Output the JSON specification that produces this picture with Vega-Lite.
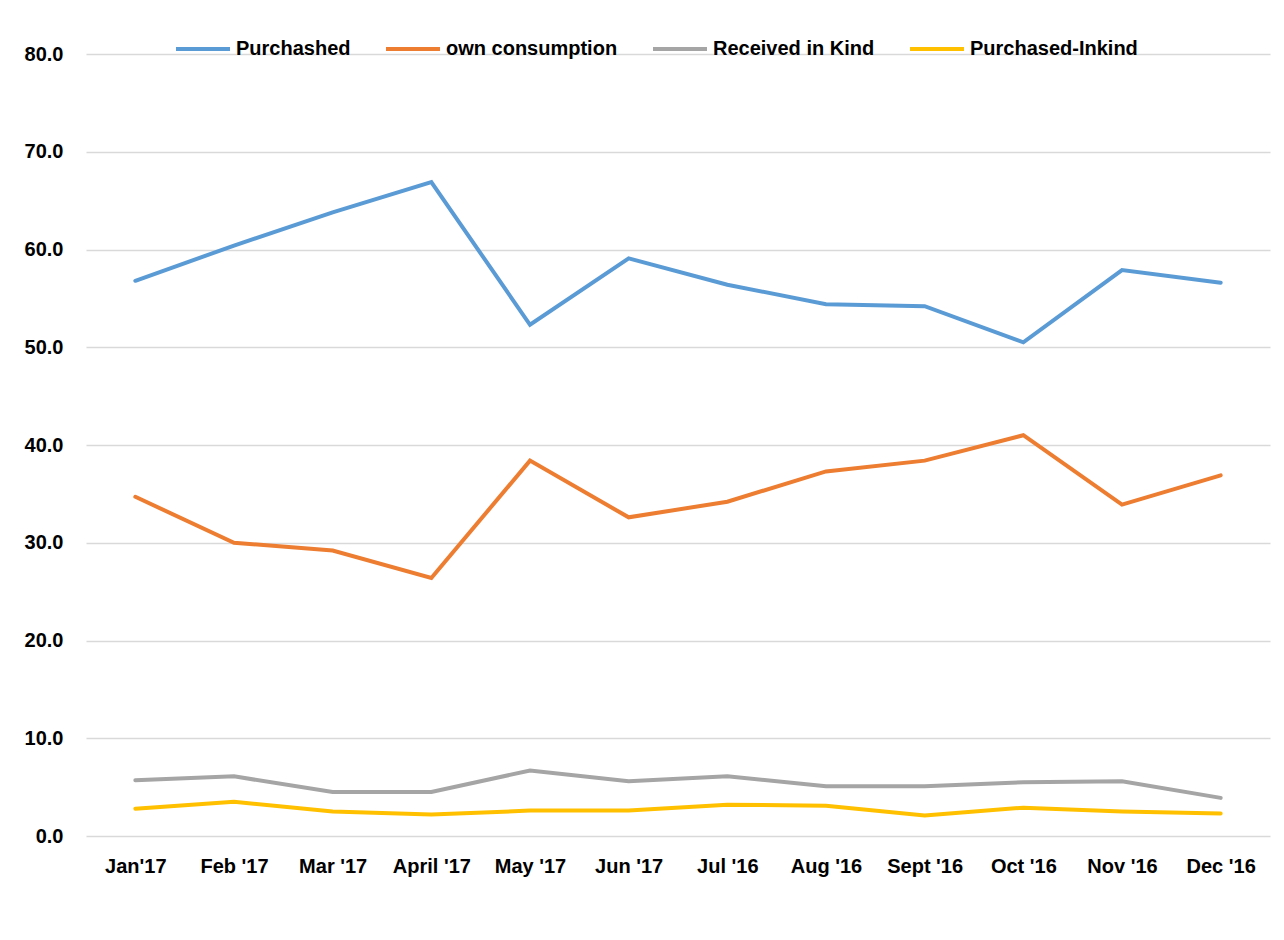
{
  "$schema": "https://vega.github.io/schema/vega-lite/v6.json",
  "autosize": {"type": "none"},
  "width": 1184,
  "height": 782,
  "padding": {"left": 86, "top": 54, "right": 14, "bottom": 104},
  "background": "white",
  "config": {
    "view": {"stroke": null},
    "font": "Liberation Sans, Arial, sans-serif"
  },
  "data": {
    "values": [
      {"month": "Jan'17", "series": "Purchashed", "value": 56.8},
      {"month": "Feb '17", "series": "Purchashed", "value": 60.4},
      {"month": "Mar '17", "series": "Purchashed", "value": 63.8},
      {"month": "April '17", "series": "Purchashed", "value": 66.9},
      {"month": "May '17", "series": "Purchashed", "value": 52.3},
      {"month": "Jun '17", "series": "Purchashed", "value": 59.1},
      {"month": "Jul '16", "series": "Purchashed", "value": 56.4},
      {"month": "Aug '16", "series": "Purchashed", "value": 54.4},
      {"month": "Sept '16", "series": "Purchashed", "value": 54.2},
      {"month": "Oct '16", "series": "Purchashed", "value": 50.5},
      {"month": "Nov '16", "series": "Purchashed", "value": 57.9},
      {"month": "Dec '16", "series": "Purchashed", "value": 56.6},
      {"month": "Jan'17", "series": "own consumption", "value": 34.7},
      {"month": "Feb '17", "series": "own consumption", "value": 30.0},
      {"month": "Mar '17", "series": "own consumption", "value": 29.2},
      {"month": "April '17", "series": "own consumption", "value": 26.4},
      {"month": "May '17", "series": "own consumption", "value": 38.4},
      {"month": "Jun '17", "series": "own consumption", "value": 32.6},
      {"month": "Jul '16", "series": "own consumption", "value": 34.2},
      {"month": "Aug '16", "series": "own consumption", "value": 37.3},
      {"month": "Sept '16", "series": "own consumption", "value": 38.4},
      {"month": "Oct '16", "series": "own consumption", "value": 41.0},
      {"month": "Nov '16", "series": "own consumption", "value": 33.9},
      {"month": "Dec '16", "series": "own consumption", "value": 36.9},
      {"month": "Jan'17", "series": "Received in Kind", "value": 5.7},
      {"month": "Feb '17", "series": "Received in Kind", "value": 6.1},
      {"month": "Mar '17", "series": "Received in Kind", "value": 4.5},
      {"month": "April '17", "series": "Received in Kind", "value": 4.5},
      {"month": "May '17", "series": "Received in Kind", "value": 6.7},
      {"month": "Jun '17", "series": "Received in Kind", "value": 5.6},
      {"month": "Jul '16", "series": "Received in Kind", "value": 6.1},
      {"month": "Aug '16", "series": "Received in Kind", "value": 5.1},
      {"month": "Sept '16", "series": "Received in Kind", "value": 5.1},
      {"month": "Oct '16", "series": "Received in Kind", "value": 5.5},
      {"month": "Nov '16", "series": "Received in Kind", "value": 5.6},
      {"month": "Dec '16", "series": "Received in Kind", "value": 3.9},
      {"month": "Jan'17", "series": "Purchased-Inkind", "value": 2.8},
      {"month": "Feb '17", "series": "Purchased-Inkind", "value": 3.5},
      {"month": "Mar '17", "series": "Purchased-Inkind", "value": 2.5},
      {"month": "April '17", "series": "Purchased-Inkind", "value": 2.2},
      {"month": "May '17", "series": "Purchased-Inkind", "value": 2.6},
      {"month": "Jun '17", "series": "Purchased-Inkind", "value": 2.6},
      {"month": "Jul '16", "series": "Purchased-Inkind", "value": 3.2},
      {"month": "Aug '16", "series": "Purchased-Inkind", "value": 3.1},
      {"month": "Sept '16", "series": "Purchased-Inkind", "value": 2.1},
      {"month": "Oct '16", "series": "Purchased-Inkind", "value": 2.9},
      {"month": "Nov '16", "series": "Purchased-Inkind", "value": 2.5},
      {"month": "Dec '16", "series": "Purchased-Inkind", "value": 2.3}
    ]
  },
  "mark": {"type": "line", "strokeWidth": 4, "strokeCap": "round", "strokeJoin": "miter"},
  "encoding": {
    "x": {
      "field": "month",
      "type": "nominal",
      "sort": null,
      "scale": {"type": "point", "padding": 0.5},
      "axis": {
        "title": null,
        "labelAngle": 0,
        "labelFont": "Liberation Sans, Arial, sans-serif",
        "labelFontSize": 20,
        "labelFontWeight": "bold",
        "labelColor": "black",
        "labelPadding": 20,
        "ticks": false,
        "domain": false,
        "grid": false
      }
    },
    "y": {
      "field": "value",
      "type": "quantitative",
      "scale": {"domain": [0, 80], "nice": false},
      "axis": {
        "title": null,
        "values": [0, 10, 20, 30, 40, 50, 60, 70, 80],
        "format": ".1f",
        "labelFont": "Liberation Sans, Arial, sans-serif",
        "labelFontSize": 20,
        "labelFontWeight": "bold",
        "labelColor": "black",
        "labelPadding": 23,
        "ticks": false,
        "domain": false,
        "grid": true,
        "gridColor": "#D9D9D9",
        "gridWidth": 1.5
      }
    },
    "color": {
      "field": "series",
      "type": "nominal",
      "sort": ["Purchashed", "own consumption", "Received in Kind", "Purchased-Inkind"],
      "scale": {
        "domain": ["Purchashed", "own consumption", "Received in Kind", "Purchased-Inkind"],
        "range": ["#5B9BD5", "#ED7D31", "#A5A5A5", "#FFC000"]
      },
      "legend": {
        "title": null,
        "orient": "none",
        "direction": "horizontal",
        "legendX": 88,
        "legendY": -34,
        "symbolType": "stroke",
        "symbolSize": 2916,
        "symbolStrokeWidth": 4,
        "labelOffset": 4,
        "columnPadding": 27,
        "labelFont": "Liberation Sans, Arial, sans-serif",
        "labelFontSize": 20,
        "labelFontWeight": "bold",
        "labelColor": "black",
        "labelLimit": 400
      }
    }
  }
}
